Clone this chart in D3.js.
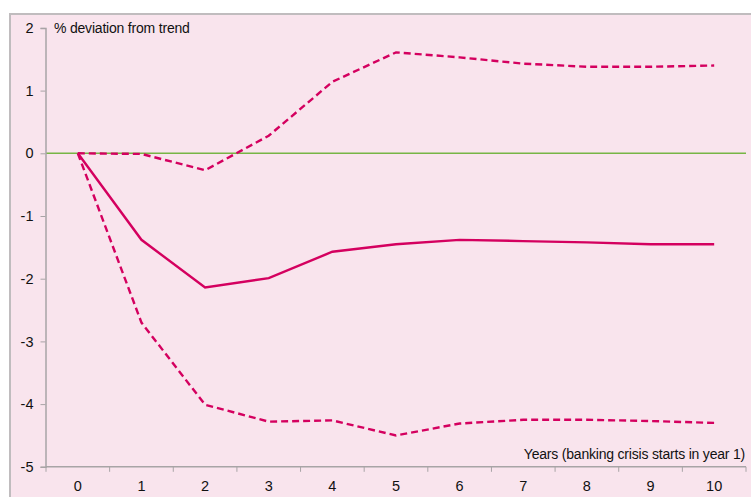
<!DOCTYPE html>
<html>
<head>
<meta charset="utf-8">
<script src="https://cdn.jsdelivr.net/npm/d3@7"></script>
<style>
  html, body { margin: 0; padding: 0; background: #ffffff; }
  svg { display: block; font-family: "Liberation Sans", Arial, sans-serif; }
</style>
</head>
<body>
<svg id="chart" width="751" height="497"></svg>
<script>
// Years after the start of the sample
const years = [0, 1, 2, 3, 4, 5, 6, 7, 8, 9, 10];
// Central estimate and upper/lower confidence bands (% deviation from trend)
const central = [0, -1.38, -2.14, -1.99, -1.57, -1.45, -1.38, -1.40, -1.42, -1.45, -1.45];
const upper   = [0, -0.01, -0.27, 0.28, 1.14, 1.61, 1.53, 1.43, 1.38, 1.38, 1.40];
const lower   = [0, -2.70, -4.01, -4.28, -4.26, -4.50, -4.31, -4.25, -4.25, -4.27, -4.30];
const yTicks  = [-5, -4, -3, -2, -1, 0, 1, 2];

const svg = d3.select("#chart");
const pink = "#f9e4ed";
const lineColor = "#d4005f";

// Framed panel
svg.append("rect")
  .attr("x", 10).attr("y", 14)
  .attr("width", 760).attr("height", 500)
  .attr("fill", pink)
  .attr("stroke", "#c0bcbe").attr("stroke-width", 2);

const x = d3.scaleBand().domain(years).range([46, 746]);
const xc = d => x(d) + x.bandwidth() / 2;
const y = d3.scaleLinear().domain([-5, 2]).range([466.8, 27.9]);

// Zero line
svg.append("line")
  .attr("x1", 46).attr("x2", 746)
  .attr("y1", y(0)).attr("y2", y(0))
  .attr("stroke", "#77b545").attr("stroke-width", 1.5);

// Y axis (plain hyphen for negatives)
const yAxis = svg.append("g")
  .attr("transform", "translate(45.5,0)")
  .call(d3.axisLeft(y).tickValues(yTicks).tickSize(5).tickPadding(7).tickFormat(d => String(d)));
yAxis.select(".domain").attr("stroke", "#a8a4a6").attr("stroke-width", 1.5);
yAxis.selectAll(".tick line").attr("stroke", "#a8a4a6");
yAxis.selectAll(".tick text").attr("font-size", 14.5).attr("fill", "#111")
  .attr("font-family", "Liberation Sans, Arial, sans-serif");

// X axis: ticks between categories
const xAxis = svg.append("g")
  .attr("transform", "translate(0," + (y(-5)) + ")");
xAxis.append("line")
  .attr("x1", 46).attr("x2", 746)
  .attr("stroke", "#a8a4a6").attr("stroke-width", 1.5);
const bounds = years.map(d => x(d)).concat([x(years[years.length - 1]) + x.bandwidth()]);
xAxis.selectAll("line.tk").data(bounds).enter().append("line")
  .attr("class", "tk")
  .attr("x1", d => d).attr("x2", d => d)
  .attr("y1", 0).attr("y2", 5)
  .attr("stroke", "#a8a4a6");
xAxis.selectAll("text").data(years).enter().append("text")
  .attr("x", d => xc(d)).attr("y", 24)
  .attr("text-anchor", "middle")
  .attr("font-size", 14.5).attr("fill", "#111")
  .text(d => d);

// Axis titles
svg.append("text")
  .attr("x", 54).attr("y", 33)
  .attr("font-size", 14).attr("fill", "#111")
  .attr("letter-spacing", -0.2)
  .text("% deviation from trend");
svg.append("text")
  .attr("x", 745).attr("y", 459)
  .attr("text-anchor", "end")
  .attr("font-size", 14).attr("fill", "#111")
  .attr("letter-spacing", -0.2)
  .text("Years (banking crisis starts in year 1)");

// Series
const line = d3.line().x((d, i) => xc(years[i])).y(d => y(d));
svg.append("path").datum(upper)
  .attr("d", line).attr("fill", "none")
  .attr("stroke", lineColor).attr("stroke-width", 2.4)
  .attr("stroke-dasharray", "7,4");
svg.append("path").datum(lower)
  .attr("d", line).attr("fill", "none")
  .attr("stroke", lineColor).attr("stroke-width", 2.4)
  .attr("stroke-dasharray", "7,4");
svg.append("path").datum(central)
  .attr("d", line).attr("fill", "none")
  .attr("stroke", lineColor).attr("stroke-width", 2.4);
</script>
</body>
</html>
